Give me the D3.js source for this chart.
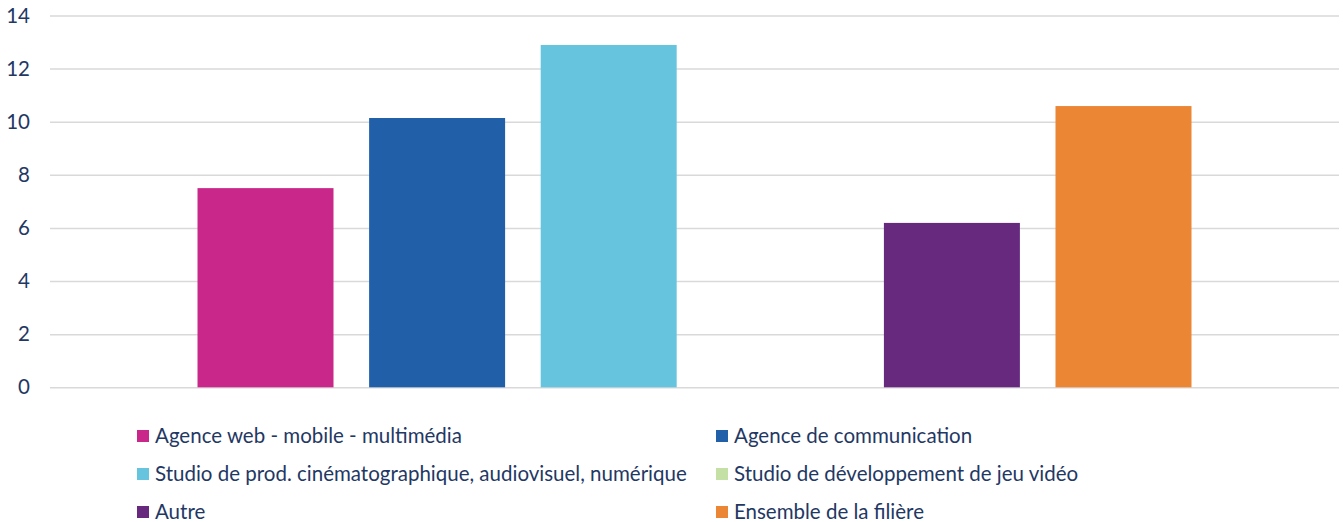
<!DOCTYPE html>
<html>
<head>
<meta charset="utf-8">
<script src="https://cdn.jsdelivr.net/npm/d3@7"></script>
<style>
  body { margin: 0; background: #fff; }
  svg { display: block; font-family: Lato, "Open Sans", sans-serif; }
  .tick text { fill: #1f3864; font-size: 20.5px; font-family: Lato, "Open Sans", sans-serif; }
  .legend text { fill: #1f3864; font-size: 20.5px; }
</style>
</head>
<body>
<svg width="1343" height="522"></svg>
<script>
// values
var categories = [""];
var series = [
  "Agence web - mobile - multimédia",
  "Agence de communication",
  "Studio de prod. cinématographique, audiovisuel, numérique",
  "Studio de développement de jeu vidéo",
  "Autre",
  "Ensemble de la filière"
];
var values = [7.5, 10.14, 12.89, 0, 6.19, 10.59];
var colors = ["#c9278a", "#2160a8", "#67c4df", "#c5e0a5", "#66297e", "#ea8634"];
var yTicks = [0, 2, 4, 6, 8, 10, 12, 14];

(function () {
  var svg = d3.select("svg");
  var plotLeft = 50, plotRight = 1339, plotTop = 15.5, plotBottom = 387.3;

  var y = d3.scaleLinear().domain([0, 14]).range([plotBottom, plotTop]);
  var x0 = d3.scaleBand().domain(categories).range([plotLeft, plotRight]).paddingInner(0).paddingOuter(0.1484);
  var x1 = d3.scaleBand().domain(series).range([0, x0.bandwidth()]).paddingInner(0.2075).paddingOuter(0);

  // gridlines + labels
  var yAxis = d3.axisLeft(y).tickValues(yTicks).tickSize(-(plotRight - plotLeft)).tickPadding(20);
  var gy = svg.append("g").attr("transform", "translate(" + plotLeft + ",0)").call(yAxis);
  gy.attr("font-family", null).attr("font-size", null);
  gy.select(".domain").remove();
  gy.selectAll(".tick line").attr("stroke", "#d9d9d9").attr("stroke-width", 1.5);

  var rows = categories.map(function (c) {
    return series.map(function (s, i) { return { cat: c, name: s, value: values[i], color: colors[i] }; });
  });

  svg.append("g").selectAll("g")
    .data(rows)
    .enter().append("g")
    .attr("transform", function (d, i) { return "translate(" + x0(categories[i]) + ",0)"; })
    .selectAll("rect")
    .data(function (d) { return d.filter(function (e) { return e.value > 0; }); })
    .enter().append("rect")
    .attr("x", function (d) { return x1(d.name); })
    .attr("y", function (d) { return y(d.value); })
    .attr("width", x1.bandwidth())
    .attr("height", function (d) { return y(0) - y(d.value); })
    .attr("fill", function (d) { return d.color; });

  // legend, two columns
  var colX = [137, 716], rowY0 = 436, rowStep = 38, sq = 12;
  var legend = svg.append("g").attr("class", "legend")
    .selectAll("g")
    .data(series)
    .enter().append("g")
    .attr("transform", function (d, i) {
      return "translate(" + colX[i % 2] + "," + (rowY0 + Math.floor(i / 2) * rowStep) + ")";
    });
  legend.append("rect")
    .attr("x", 0).attr("y", -sq / 2)
    .attr("width", sq).attr("height", sq)
    .attr("fill", function (d, i) { return colors[i]; });
  legend.append("text")
    .attr("x", 18).attr("dy", "0.35em")
    .text(function (d) { return d; });
})();
</script>
</body>
</html>
